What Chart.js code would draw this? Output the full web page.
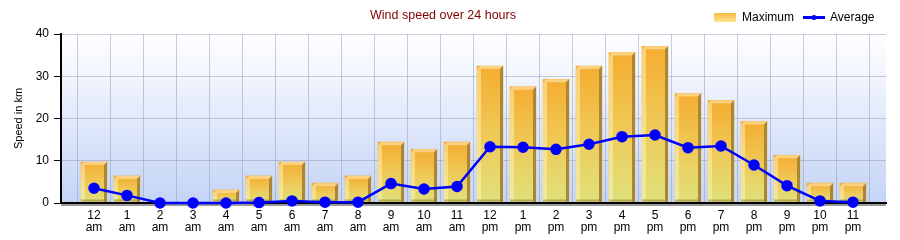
<!DOCTYPE html>
<html>
<head>
<meta charset="utf-8">
<title>Wind speed over 24 hours</title>
<script src="https://cdn.jsdelivr.net/npm/chart.js@4.4.1/dist/chart.umd.min.js"></script>
<style>
  html, body { margin: 0; padding: 0; background: #ffffff; }
  #wrap { width: 900px; height: 240px; }
</style>
</head>
<body>
<div id="wrap"><canvas id="wind-chart" width="900" height="240"></canvas></div>
<script>
// Hourly wind data (km)
const hours = [
  "12 am", "1 am", "2 am", "3 am", "4 am", "5 am", "6 am", "7 am", "8 am", "9 am", "10 am", "11 am",
  "12 pm", "1 pm", "2 pm", "3 pm", "4 pm", "5 pm", "6 pm", "7 pm", "8 pm", "9 pm", "10 pm", "11 pm",
];
const maxSpeed = [
  9.7, 6.4, 0, 0, 3.1, 6.4, 9.7, 4.7, 6.4, 14.4, 12.7, 14.4,
  32.4, 27.5, 29.3, 32.4, 35.6, 37.1, 25.9, 24.3, 19.3, 11.3, 4.7, 4.7,
];
const avgSpeed = [
  3.5, 1.8, 0, 0, 0, 0.1, 0.5, 0.2, 0.2, 4.6, 3.3, 3.9,
  13.3, 13.2, 12.7, 13.9, 15.7, 16.1, 13.1, 13.5, 9.0, 4.1, 0.5, 0.2,
];
const speedTicks = [0, 10, 20, 30, 40];

const FONT = "'Liberation Sans', Arial, sans-serif";
const DEPTH = 3;

function barGradient(context) {
  const chart = context.chart;
  if (!chart.chartArea || context.type !== "data") return "#f4c04a";
  const yScale = chart.scales.y;
  const top = yScale.getPixelForValue(context.parsed.y);
  const bottom = yScale.getPixelForValue(0);
  if (bottom - top < 1) return "#f4c04a";
  const g = chart.ctx.createLinearGradient(0, top, 0, bottom);
  g.addColorStop(0, "rgba(245,170,40,0.96)");
  g.addColorStop(0.5, "rgba(240,200,80,0.96)");
  g.addColorStop(1, "rgba(224,226,118,0.96)");
  return g;
}

// Plot background gradient
const plotBackground = {
  id: "plotBackground",
  beforeDraw(chart) {
    const { ctx, chartArea: a } = chart;
    const g = ctx.createLinearGradient(0, a.top, 0, a.bottom);
    g.addColorStop(0, "#ffffff");
    g.addColorStop(1, "#c4d4f6");
    ctx.save();
    ctx.fillStyle = g;
    ctx.fillRect(a.left, a.top, a.right - a.left, a.bottom - a.top);
    ctx.restore();
  },
};

// Fake 3D faces on the bars, then redraw the base line over them
const barFaces = {
  id: "barFaces",
  afterDatasetDraw(chart, args) {
    if (args.index !== 0) return;
    const ctx = chart.ctx;
    const a = chart.chartArea;
    ctx.save();
    args.meta.data.forEach((el) => {
      const { x, y, base, width } = el.getProps(["x", "y", "base", "width"], true);
      if (base - y < 1) return;
      const x0 = x - width / 2;
      const x1 = x + width / 2;

      ctx.fillStyle = "rgb(252,210,128)";
      ctx.beginPath();
      ctx.moveTo(x0, y + DEPTH);
      ctx.lineTo(x0 + DEPTH, y);
      ctx.lineTo(x1, y);
      ctx.lineTo(x1 - DEPTH, y + DEPTH);
      ctx.closePath();
      ctx.fill();

      ctx.fillStyle = "rgb(168,134,58)";
      ctx.beginPath();
      ctx.moveTo(x1 - DEPTH, y + DEPTH);
      ctx.lineTo(x1, y);
      ctx.lineTo(x1, base);
      ctx.lineTo(x1 - DEPTH, base);
      ctx.closePath();
      ctx.fill();

      ctx.fillStyle = "rgba(255,244,190,0.5)";
      ctx.fillRect(x0, y + DEPTH, 4, base - y - DEPTH);

      ctx.fillStyle = "rgba(120,100,40,0.45)";
      ctx.fillRect(x0, base - 3, width - DEPTH, 2);
    });

    const zero = chart.scales.y.getPixelForValue(0);
    ctx.fillStyle = "#9a9a9a";
    ctx.fillRect(a.left, zero + 1, a.right - a.left, 2);
    ctx.fillStyle = "#000000";
    ctx.fillRect(a.left - 1, zero - 1, a.right - a.left + 1, 2);
    ctx.restore();
  },
};

// Legend sits on the title row, right side
const topLegend = {
  id: "topLegend",
  afterDraw(chart) {
    const ctx = chart.ctx;
    const sets = chart.data.datasets;
    ctx.save();
    ctx.font = "12px " + FONT;
    ctx.textBaseline = "middle";
    ctx.textAlign = "left";

    const g = ctx.createLinearGradient(0, 13, 0, 22);
    g.addColorStop(0, "#f7bb48");
    g.addColorStop(1, "#fbe58c");
    ctx.fillStyle = g;
    ctx.fillRect(714, 13, 22, 9);
    ctx.fillStyle = "#000000";
    ctx.fillText(sets[0].label, 742, 18);

    ctx.strokeStyle = "#0000ff";
    ctx.lineWidth = 3;
    ctx.beginPath();
    ctx.moveTo(803, 17.5);
    ctx.lineTo(825, 17.5);
    ctx.stroke();
    ctx.fillStyle = "#0000ff";
    ctx.beginPath();
    ctx.arc(814, 17.5, 2.5, 0, Math.PI * 2);
    ctx.fill();
    ctx.fillStyle = "#000000";
    ctx.fillText(sets[1].label, 830, 18);
    ctx.restore();
  },
};

const ctx = document.getElementById("wind-chart");

new Chart(ctx, {
  data: {
    datasets: [
      {
        type: "bar",
        label: "Maximum",
        data: maxSpeed.map((v, i) => ({ x: i, y: v })),
        backgroundColor: barGradient,
        borderWidth: 0,
        barThickness: 26,
        order: 2,
      },
      {
        type: "line",
        label: "Average",
        data: avgSpeed.map((v, i) => ({ x: i, y: v })),
        borderColor: "#0000ff",
        backgroundColor: "#0000ff",
        borderWidth: 2.5,
        pointRadius: 4.5,
        pointHoverRadius: 4.5,
        tension: 0,
        clip: 8,
        order: 1,
      },
    ],
  },
  options: {
    responsive: false,
    animation: false,
    devicePixelRatio: 1,
    layout: {
      padding: { left: 0, right: 14, top: 0, bottom: 0 },
    },
    plugins: {
      legend: { display: false },
      tooltip: { enabled: false },
      title: {
        display: true,
        text: "Wind speed over 24 hours",
        color: "#800000",
        font: { family: FONT, size: 12.5, weight: "normal", lineHeight: 1.2 },
        padding: { top: 8, bottom: 11 },
      },
    },
    scales: {
      x: {
        type: "linear",
        offset: false,
        min: -1,
        max: hours.length,
        afterFit: (scale) => {
          scale.height = 37;
        },
        afterBuildTicks: (scale) => {
          const ticks = [];
          for (let i = -1; i <= hours.length; i++) ticks.push({ value: i });
          scale.ticks = ticks;
        },
        ticks: {
          autoSkip: false,
          maxRotation: 0,
          padding: 6,
          color: "#000000",
          font: { family: FONT, size: 12, lineHeight: 1.05 },
          callback: (value) => (hours[value] ? hours[value].split(" ") : ""),
        },
        grid: {
          color: "rgba(140,145,175,0.45)",
          drawTicks: false,
        },
        border: { color: "#000000", width: 2 },
      },
      y: {
        min: 0,
        max: 40,
        afterFit: (scale) => {
          scale.width = 61;
        },
        afterBuildTicks: (scale) => {
          scale.ticks = speedTicks.map((v) => ({ value: v }));
        },
        ticks: {
          padding: 5,
          color: "#000000",
          font: { family: FONT, size: 12 },
        },
        grid: {
          color: "rgba(140,145,175,0.45)",
          tickColor: "#000000",
          tickLength: 7,
        },
        border: { color: "#000000", width: 2 },
        title: {
          display: true,
          text: "Speed in km",
          color: "#000000",
          font: { family: FONT, size: 11 },
          padding: { top: 12, bottom: 0 },
        },
      },
    },
  },
  plugins: [plotBackground, barFaces, topLegend],
});
</script>
</body>
</html>
